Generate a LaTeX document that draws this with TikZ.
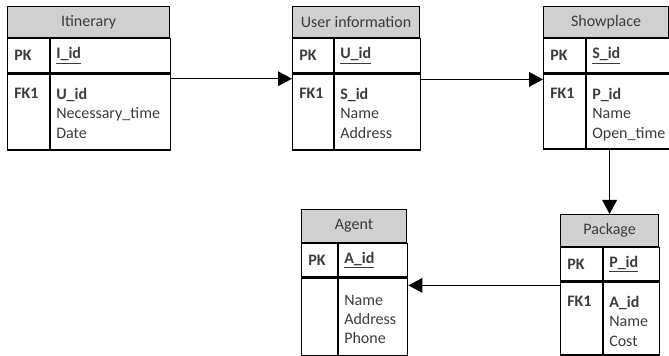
\documentclass[tikz,border=0pt]{standalone}
\usepackage{fontspec}
\setmainfont{Carlito}
\usetikzlibrary{arrows.meta}
\definecolor{hdrgray}{RGB}{208,208,208}
\definecolor{txtgray}{RGB}{60,60,60}
\tikzset{
  cell/.style n args={2}{draw, line width=0.9pt, inner sep=0pt,
    minimum width=#1*0.75pt, minimum height=#2*0.75pt, anchor=north west},
  hdr/.style={fill=hdrgray, text=txtgray, font=\fontsize{12}{14.6}\selectfont},
  key/.style={anchor=west, inner sep=0pt, xshift=5pt, text=txtgray,
    font=\fontsize{12}{14.6}\selectfont\bfseries},
  fields/.style={anchor=north west, inner sep=0pt, xshift=4pt, yshift=-10.5pt,
    align=left, text=txtgray, font=\fontsize{12}{14.6}\selectfont},
}
\begin{document}
\begin{tikzpicture}[x=0.75pt,y=-0.75pt,>={Triangle[length=10.5pt,width=11pt]},
                    line width=1.1pt]
  \useasboundingbox (0,0) rectangle (669,356);

  % Itinerary
  \node[cell={162}{31}, hdr] (itin) at (7,6) {Itinerary};
  \node[cell={42}{34}] (itin-pk) at (itin.south west) {};
  \node[cell={120}{34}] (itin-pkf) at (itin-pk.north east) {};
  \node[cell={42}{76}] (itin-fk) at (itin-pk.south west) {};
  \node[cell={120}{76}] (itin-fkf) at (itin-fk.north east) {};
  \node[key] at (itin-pk.west) {PK};
  \node[key, xshift=-1pt] at (itin-pkf.west) {\underline{I\_id}};
  \node[fields, xshift=1pt] at (itin-fk.north west) {\textbf{FK1}};
  \node[fields] at (itin-fkf.north west) {\textbf{U\_id}\\Necessary\_time\\Date};

  % User information
  \node[cell={127}{31}, hdr] (user) at (292,6) {User information};
  \node[cell={41}{34}] (user-pk) at (user.south west) {};
  \node[cell={86}{34}] (user-pkf) at (user-pk.north east) {};
  \node[cell={41}{76}] (user-fk) at (user-pk.south west) {};
  \node[cell={86}{76}] (user-fkf) at (user-fk.north east) {};
  \node[key] at (user-pk.west) {PK};
  \node[key, xshift=-1pt] at (user-pkf.west) {\underline{U\_id}};
  \node[fields, xshift=1pt] at (user-fk.north west) {\textbf{FK1}};
  \node[fields] at (user-fkf.north west) {\textbf{S\_id}\\Name\\Address};

  % Showplace
  \node[cell={125}{31}, hdr] (show) at (543,6) {Showplace};
  \node[cell={42}{34}] (show-pk) at (show.south west) {};
  \node[cell={83}{34}] (show-pkf) at (show-pk.north east) {};
  \node[cell={42}{75}] (show-fk) at (show-pk.south west) {};
  \node[cell={83}{75}] (show-fkf) at (show-fk.north east) {};
  \node[key] at (show-pk.west) {PK};
  \node[key, xshift=-1pt] at (show-pkf.west) {\underline{S\_id}};
  \node[fields, xshift=1pt] at (show-fk.north west) {\textbf{FK1}};
  \node[fields] at (show-fkf.north west) {\textbf{P\_id}\\Name\\Open\_time};

  % Agent
  \node[cell={105}{33}, hdr] (agent) at (301,209) {Agent};
  \node[cell={36}{33}] (agent-pk) at (agent.south west) {};
  \node[cell={69}{33}] (agent-pkf) at (agent-pk.north east) {};
  \node[cell={36}{78}] (agent-fk) at (agent-pk.south west) {};
  \node[cell={69}{78}] (agent-fkf) at (agent-fk.north east) {};
  \node[key] at (agent-pk.west) {PK};
  \node[key, xshift=-1pt] at (agent-pkf.west) {\underline{A\_id}};
  \node[fields, yshift=-2pt] at (agent-fkf.north west) {Name\\Address\\Phone};

  % Package
  \node[cell={98}{32}, hdr] (pack) at (560,214) {Package};
  \node[cell={42}{33}] (pack-pk) at (pack.south west) {};
  \node[cell={56}{33}] (pack-pkf) at (pack-pk.north east) {};
  \node[cell={42}{73}] (pack-fk) at (pack-pk.south west) {};
  \node[cell={56}{73}] (pack-fkf) at (pack-fk.north east) {};
  \node[key] at (pack-pk.west) {PK};
  \node[key, xshift=-1pt] at (pack-pkf.west) {\underline{P\_id}};
  \node[fields, xshift=1pt] at (pack-fk.north west) {\textbf{FK1}};
  \node[fields] at (pack-fkf.north west) {\textbf{A\_id}\\Name\\Cost};

  % links
  \draw[->] ([yshift=-4pt]itin-fkf.north east) -- ([yshift=-4pt]user-fk.north west);
  \draw[->] ([yshift=-4.5pt]user-fkf.north east) -- ([yshift=-4.5pt]show-fk.north west);
  \draw[->] (show-fkf.south -| pack.north) -- (pack.north);
  \draw[->] ([yshift=-3pt]pack-fk.north west) coordinate (pa) -- (pa -| agent-fkf.east);
\end{tikzpicture}
\end{document}
